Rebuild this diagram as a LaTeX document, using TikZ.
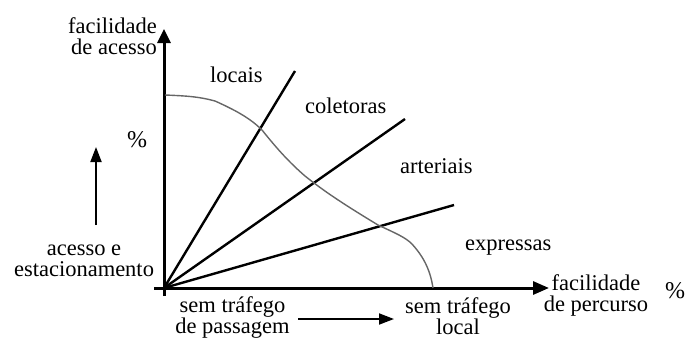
\documentclass[tikz,border=0pt]{standalone}
\usepackage{fontspec}
\setmainfont{Liberation Serif}
\usetikzlibrary{arrows.meta}
\begin{document}
\begin{tikzpicture}[x=1pt,y=-1pt,
  lbl/.style={inner sep=0pt,font=\fontsize{22.5}{21}\selectfont},
  axis/.style={line width=3pt,-{Triangle[length=14pt,width=13pt]}},
  ray/.style={line width=2.4pt},
  thin arrow/.style={line width=1.8pt,-{Triangle[length=15pt,width=11pt]}},
  curve/.style={line width=1.4pt,draw=black!60}]
\useasboundingbox (0,0) rectangle (686,338);
\coordinate (O) at (164,288);
\coordinate (ybot) at (164,296);
\coordinate (ytop) at (164,29);
\coordinate (xl) at (154,288);
\coordinate (xr) at (549,288);
\coordinate (L1) at (295,71);
\coordinate (L2) at (405,119);
\coordinate (L3) at (454,205);
\coordinate (a1) at (96,225);
\coordinate (a2) at (96,147);
\coordinate (b1) at (298,319);
\coordinate (b2) at (394,319);
% axes
\draw[axis] (ybot) -- (ytop);
\draw[axis,-{Triangle[length=16pt,width=13pt]}] (xl) -- (xr);
% rays
\draw[ray] (O) -- (L1);
\draw[ray] (O) -- (L2);
\draw[ray] (O) -- (L3);
% curve
\draw[curve] (165,95) .. controls (190,96) and (200,97) .. (215,101)
  .. controls (235,110) and (250,118) .. (262,130)
  .. controls (278,150) and (290,163) .. (305,176)
  .. controls (325,192) and (345,205) .. (378,225)
  .. controls (395,233) and (405,237) .. (412,244)
  .. controls (422,255) and (430,268) .. (433,288);
% small arrows
\draw[thin arrow] (a1) -- (a2);
\draw[thin arrow] (b1) -- (b2);
% labels
\node[lbl,anchor=base east,align=right] (facy) at (157,54) {facilidade\\de acesso};
\node[lbl,anchor=base west] (locais) at (210,82) {locais};
\node[lbl,anchor=base west] (coletoras) at (305,113) {coletoras};
\node[lbl,anchor=base west] (arteriais) at (400,173) {arteriais};
\node[lbl,anchor=base west] (expressas) at (465,250) {expressas};
\node[lbl,anchor=base west,font=\fontsize{24}{24}\selectfont] (pct1) at (127,147) {\%};
\node[lbl,anchor=base west,font=\fontsize{24}{24}\selectfont] (pct2) at (665,298) {\%};
\node[lbl,anchor=base,align=center] (acesso) at (84,276) {acesso e\\estacionamento};
\node[lbl,anchor=base,align=center] (sempass) at (232.5,333) {sem tráfego\\de passagem};
\node[lbl,anchor=base,align=center] (semloc) at (458,334) {sem tráfego\\local};
\node[lbl,anchor=base,align=center] (facx) at (596,311) {facilidade\\de percurso};
\end{tikzpicture}
\end{document}
